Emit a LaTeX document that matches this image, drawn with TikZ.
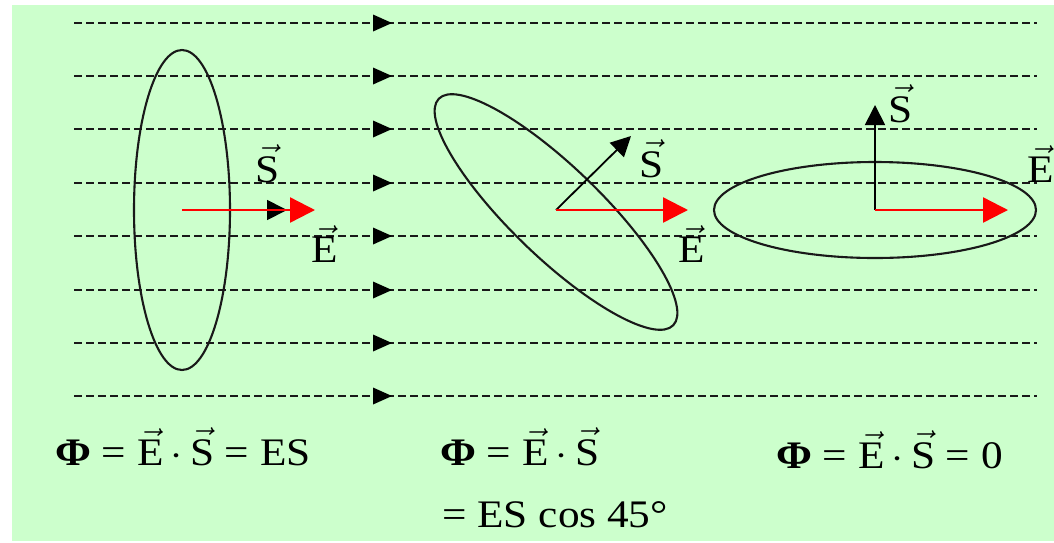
\RequirePackage{fix-cm}
\documentclass[tikz,border=0pt]{standalone}
\usepackage{fontspec}
\setmainfont{Liberation Serif}
\usetikzlibrary{arrows.meta}
\definecolor{bg}{HTML}{CCFFCC}
\newcommand\vv[1]{$\vec{\hbox{#1}}$}
\newcommand\widetxt[1]{\scalebox{1.11}[1]{#1}}
\tikzset{
  field/.style={draw=black!90, line width=2.1pt, dash pattern=on 8pt off 4pt},
  fieldtip/.style={fill=black},
  loopline/.style={draw=black!90, line width=2.1pt},
  svec/.style={draw=black, line width=1.8pt, -{Triangle[length=20pt,width=20pt]}},
  evec/.style={draw=red, line width=2.4pt, -{Triangle[length=25pt,width=25pt]}},
  lbl/.style={inner sep=0pt, anchor=base, font=\fontsize{39}{42}\selectfont},
  eq/.style={inner sep=0pt, anchor=base west, font=\fontsize{39}{42}\selectfont},
}
\begin{document}
\begin{tikzpicture}[x=1pt,y=-1pt]
\useasboundingbox (0,0) rectangle (1054,542);
\fill[bg] (12,5) rectangle (1054,541);
% field lines
\foreach \y in {23,76,129,183,236,290,343,396} {
  \path[field] (74,\y) -- (1037,\y);
  \fill[fieldtip] (392,\y) -- ++(-19,-8.5) -- ++(0,17) -- cycle;
}
% loops
\draw[loopline] (182,210) ellipse [x radius=48, y radius=160];
\draw[loopline, shift={(556,212)}, rotate=-44] (0,0) ellipse [x radius=163, y radius=45];
\draw[loopline] (875,210) ellipse [x radius=161, y radius=48];
% vectors
\coordinate (c1) at (182,210); \coordinate (s1) at (287,210); \coordinate (e1) at (315,210);
\coordinate (c2) at (556,210); \coordinate (s2) at (631,136); \coordinate (e2) at (688,210);
\coordinate (c3) at (875,210); \coordinate (s3) at (875,105); \coordinate (e3) at (1008,210);
\draw[svec] (c1) -- (s1); \draw[evec] (c1) -- (e1);
\draw[svec] (c2) -- (s2); \draw[evec] (c2) -- (e2);
\draw[svec] (c3) -- (s3); \draw[evec] (c3) -- (e3);
% labels
\node[lbl] (ls1) at (268,182) {\widetxt{\vv{S}}};
\node[lbl] (le1) at (325,262) {\widetxt{\vv{E}}};
\node[lbl] (ls2) at (652,177) {\widetxt{\vv{S}}};
\node[lbl] (le2) at (692,262) {\widetxt{\vv{E}}};
\node[lbl] (ls3) at (901,122) {\widetxt{\vv{S}}};
\node[lbl] (le3) at (1041,182) {\widetxt{\vv{E}}};
% equations
\node[eq] (q1) at (55,465) {\widetxt{{\bfseries Φ} = \vv{E}\,$\cdot$\,\vv{S} = ES}};
\node[eq] (q2) at (440,465) {\widetxt{{\bfseries Φ} = \vv{E}\,$\cdot$\,\vv{S}}};
\node[eq] (q3) at (442,527) {\widetxt{= ES cos 45°}};
\node[eq] (q4) at (776,468) {\widetxt{{\bfseries Φ} = \vv{E}\,$\cdot$\,\vv{S} = 0}};
\end{tikzpicture}
\end{document}
